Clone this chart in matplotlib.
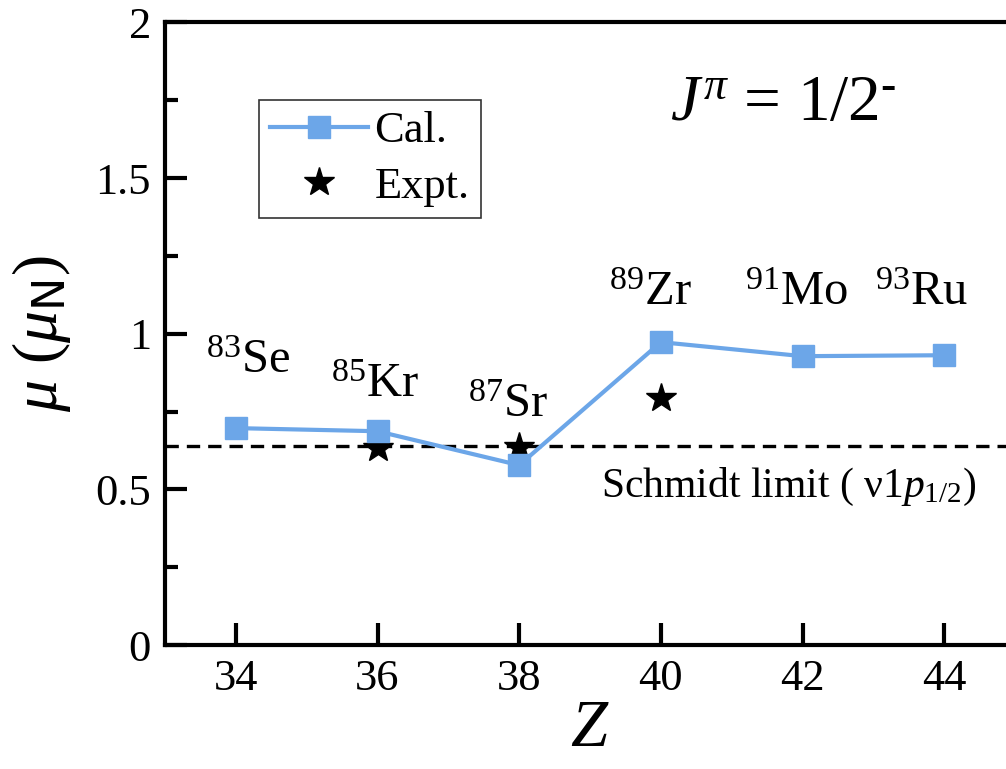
import numpy as np
import matplotlib.pyplot as plt

plt.rcParams['font.family'] = ['Liberation Serif', 'DejaVu Serif']
plt.rcParams['mathtext.fontset'] = 'custom'
plt.rcParams['mathtext.rm'] = 'Liberation Serif'
plt.rcParams['mathtext.it'] = 'Liberation Serif:italic'
plt.rcParams['mathtext.sf'] = 'DejaVu Sans'

# data
Z = [34, 36, 38, 40, 42, 44]
mu_cal = [0.697, 0.687, 0.578, 0.973, 0.928, 0.931]
Z_exp = [36, 38, 40]
mu_exp = [0.633, 0.637, 0.795]
schmidt = 0.638
nuclei = ['$^{83}$Se', '$^{85}$Kr', '$^{87}$Sr', '$^{89}$Zr', '$^{91}$Mo', '$^{93}$Ru']
label_x = [34.18, 35.97, 37.85, 39.85, 41.92, 43.68]
label_y = [0.873, 0.796, 0.732, 1.091, 1.091, 1.091]

blue = '#6CA6E8'

fig = plt.figure(figsize=(10.06, 7.69), dpi=100)
ax = fig.add_axes([0.164, 0.161, 0.845, 0.81])

ax.axhline(schmidt, color='black', ls=(0, (4, 2.4)), lw=2.4, zorder=1)
ax.plot(Z, mu_cal, '-s', color=blue, lw=3, ms=16, label='Cal.', zorder=3)
ax.plot(Z_exp, mu_exp, '*', color='black', ms=22, ls='none', label='Expt.', zorder=2)

for s, x, y in zip(nuclei, label_x, label_y):
    ax.text(x, y, s, fontsize=35, ha='center', va='baseline')

ax.text(39.15, 0.475, r'Schmidt limit ( $\mathrm{\nu}$1$p_{1/2}$)', fontsize=30, va='baseline')
ax.text(40.13, 1.685, r'$J^{\pi}$ = 1/2$^{\text{-}}$', fontsize=47, va='baseline')

ax.set_xlim(33, 45)
ax.set_ylim(0, 2)
ax.set_xticks(Z)
ax.set_yticks([0, 0.5, 1, 1.5, 2])
ax.set_yticklabels(['0', '0.5', '1', '1.5', '2'])
ax.set_yticks(np.arange(0.25, 2, 0.5), minor=True)
ax.tick_params(axis='both', which='major', direction='in', length=16, width=3,
               labelsize=32, pad=10, top=False, right=False)
ax.tick_params(axis='y', which='minor', direction='in', length=9, width=3, right=False)
for sp in ax.spines.values():
    sp.set_linewidth(3)

ax.set_xlabel('$Z$', fontsize=48, labelpad=0)
ax.set_ylabel(r'$\mu$ ($\mu_{\mathsf{N}}$)', fontsize=46, labelpad=16)

leg = ax.legend(loc='upper left', bbox_to_anchor=(0.1106, 0.875), fontsize=32,
                frameon=True, fancybox=False, edgecolor='black', handlelength=2.2,
                borderpad=0.25, labelspacing=0.35, handletextpad=0.15, borderaxespad=0)
leg.get_frame().set_linewidth(1.2)

fig.savefig('out.png', dpi=100)
